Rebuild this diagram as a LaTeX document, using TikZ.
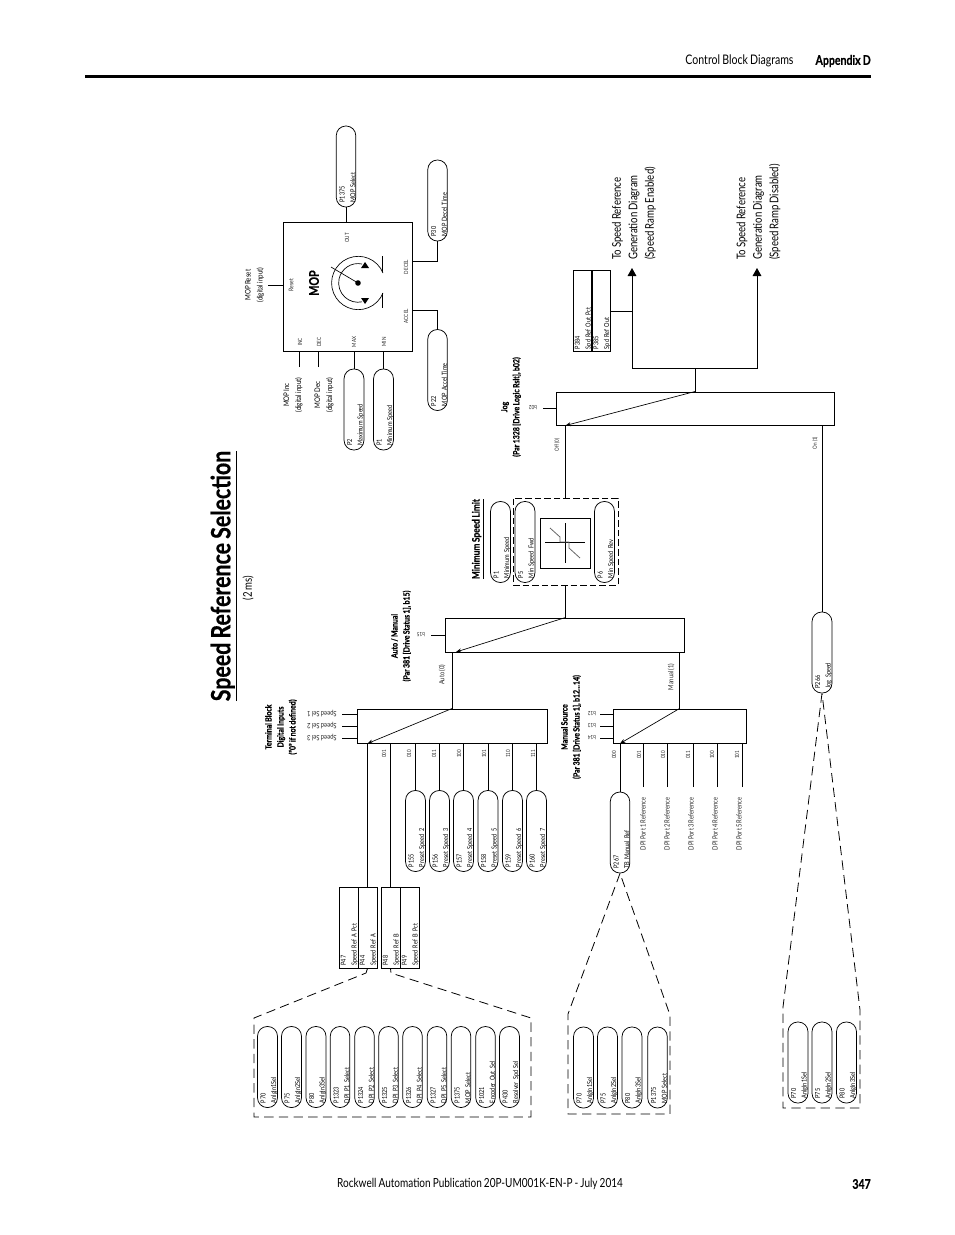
\documentclass[tikz,border=0pt]{standalone}
\usepackage{fontspec}
\setmainfont{Lato}[FakeStretch=0.8,WordSpace=0.8,BoldFeatures={FakeBold=0.5}]
\usepackage{tikz}
\usetikzlibrary{arrows.meta}
\newcommand{\pxu}{0.75pt}
\tikzset{
  wire/.style={line width=0.75pt},
  pill/.style={draw, line width=0.55pt, rectangle, rounded corners=7.2pt, rotate=90, inner sep=0pt,
    minimum width=81*\pxu, minimum height=19.5*\pxu, text width=54pt, align=left,
    font=\fontsize{5.2}{8}\selectfont, execute at begin node={\rule{0pt}{6pt}}},
  parambox/.style={draw, line width=0.7pt, rectangle, rotate=90, inner sep=0pt,
    minimum width=81*\pxu, minimum height=19*\pxu, text width=57pt, align=left,
    font=\fontsize{5.2}{8}\selectfont, execute at begin node={\rule{0pt}{5pt}}},
  block/.style 2 args={draw, line width=0.75pt, rectangle, inner sep=0pt, minimum width=#1*\pxu, minimum height=#2*\pxu},
  tinylabel/.style={rotate=90, inner sep=0pt, align=center, font=\fontsize{4.3}{7}\selectfont, text=black!85},
  smalllabel/.style={rotate=90, inner sep=0pt, align=center, font=\fontsize{5.4}{7}\selectfont, text=black!85},
  sellabel/.style={rotate=180, inner sep=0pt, font=\fontsize{4.3}{7}\selectfont, text=black!85},
  speedsel/.style={rotate=180, inner sep=0pt, font=\fontsize{5.5}{7}\selectfont, text=black!85},
  noteblock/.style={rotate=90, inner sep=0pt, align=center, font=\fontsize{5.8}{9}\selectfont},
  boldlabel/.style={rotate=90, inner sep=0pt, align=center, font=\fontsize{6.5}{9}\selectfont\bfseries},
  dashline/.style={line width=0.6pt, dash pattern=on 7pt off 4pt},
  thinarrow/.style={line width=0.5pt, -{Stealth[length=4pt,width=3pt]}},
  bigarrow/.style={wire, -{Triangle[length=6pt,width=6.5pt]}},
  tolabel/.style={rotate=90, anchor=west, inner sep=0pt, align=left, font=\fontsize{9}{12.4}\selectfont}
}
\begin{document}
\begin{tikzpicture}[x=0.75pt, y=-0.75pt]
\useasboundingbox (0,0) rectangle (954,1235);

\coordinate (rulestart) at (85,76.5);
\coordinate (ruleend) at (871,76.5);
\draw[line width=2.2pt] (rulestart) -- (ruleend);
\node[inner sep=0pt, font=\fontsize{9.9}{11}\selectfont] (hdrsec) at (739.5,61) {Control Block Diagrams};
\node[inner sep=0pt, anchor=east, font=\fontsize{9.9}{11}\selectfont\bfseries] (hdrapp) at (871,61) {Appendix D};
\node[inner sep=0pt, font=\fontsize{9.4}{11}\selectfont] (ftrpub) at (480,1184) {Rockwell Automation Publication 20P-UM001K-EN-P - July 2014};
\node[inner sep=0pt, anchor=east, font=\fontsize{9.9}{11}\selectfont\bfseries] (ftrpage) at (871,1184) {347};

\node[rotate=90, inner sep=0pt, font=\fontsize{20}{24}\selectfont\bfseries] (title) at (224,576) {\underline{Speed Reference Selection}};
\node[rotate=90, inner sep=0pt, font=\fontsize{9}{11}\selectfont] (cycle) at (248,588) {(2 ms)};

% MOP
\node[block={129}{129}] (mopbox) at (347.5,286.5) {};
\node[rotate=90, inner sep=0pt, font=\fontsize{10}{13}\selectfont\bfseries] (moptxt) at (314,283) {MOP};
\node[smalllabel, font=\fontsize{4.8}{7}\selectfont] (mopreset) at (291,285) {Reset};
\node[tinylabel] (mopout) at (347,238) {OUT};
\node[tinylabel] (mopdecel) at (406,267) {DECEL};
\node[tinylabel] (mopaccel) at (406,316) {ACCEL};
\node[tinylabel] (mopinc) at (300,342) {INC};
\node[tinylabel] (mopdec) at (319,342) {DEC};
\node[tinylabel] (mopmax) at (354,342) {MAX};
\node[tinylabel] (mopmin) at (384,342) {MIN};
\node[noteblock] (resetnote) at (254.5,285) {MOP Reset\\(digital input)};
\node[noteblock] (incnote) at (293,395) {MOP Inc\\(digital input)};
\node[noteblock] (decnote) at (324,395) {MOP Dec\\(digital input)};
\coordinate (resetend) at (268,285);
\coordinate (incend) at (299,367);
\coordinate (decend) at (318,367);
\draw[wire] (resetend) -- (resetend -| mopbox.west);
\draw[wire] (incend) -- (incend |- mopbox.south);
\draw[wire] (decend) -- (decend |- mopbox.south);

\node[pill] (mopsel) at (346,166.5) {P1375\\MOP Select};
\node[pill] (mopdect) at (437.5,200.5) {P30\\MOP Decel Time};
\node[pill] (mopacct) at (437.5,370) {P22\\MOP Accel Time};
\node[pill] (mopmaxs) at (354,409.5) {P2\\Maximum Speed};
\node[pill] (mopmins) at (383.5,409.5) {P1\\Minimum Speed};
\coordinate (decelpt) at (412,261);
\coordinate (accelpt) at (412,310);
\draw[wire] (mopsel.west) -- (mopsel.west |- mopbox.north);
\draw[wire] (mopdect.west) |- (decelpt);
\draw[wire] (mopacct.east) |- (accelpt);
\draw[wire] (mopmaxs.east) -- (mopmaxs.east |- mopbox.south);
\draw[wire] (mopmins.east) -- (mopmins.east |- mopbox.south);

\coordinate (symcen) at (358,283);
\fill (symcen) circle (2.1pt);
\draw[line width=0.5pt] (symcen) -- (331,267);
\draw[line width=0.5pt] (383,273) arc[start angle=22, end angle=338, radius=20pt];
\draw[line width=0.5pt] (362,264) arc[start angle=78, end angle=282, radius=14.5pt];
\draw[line width=0.6pt] (382,256) -- (382,272);
\draw[line width=0.6pt] (382,293) -- (382,308);
\fill (361,268) -- (365,262) -- (369,268) -- cycle;
\fill (361,298) -- (365,304) -- (369,298) -- cycle;

% output side
\node[block={278}{33}] (jogbox) at (695,408.5) {};
\coordinate (jogsplit) at (jogbox.north |- 0,368);
\coordinate (toenpt) at (632,268);
\coordinate (todispt) at (757,268);
\draw[wire] (jogbox.north) -- (jogsplit);
\draw[bigarrow] (jogsplit) -| (toenpt);
\draw[bigarrow] (jogsplit) -| (todispt);
\node[tolabel] (toen) at (634,260) {To Speed Reference\\Generation Diagram\\(Speed Ramp Enabled)};
\node[tolabel] (todis) at (758.5,260) {To Speed Reference\\Generation Diagram\\(Speed Ramp Disabled)};
\node[parambox] (p384) at (582.5,311) {P384\\Spd Ref Out Pct};
\node[parambox] (p385) at (601,311) {P385\\Spd Ref Out};
\draw[wire] (p385.south) -- (p385.south -| toenpt);

\node[boldlabel] (joglabel) at (511,407) {Jog\\(Par 1328 [Drive Logic Rslt], b02)};
\node[sellabel] (jogsel) at (533,408) {b02};
\coordinate (jogselend) at (543,408);
\draw[wire] (jogselend) -- (jogselend -| jogbox.west);
\node[tinylabel] (jogoff) at (557,445) {Off (0)};
\node[tinylabel] (jogon) at (815,443) {On (1)};

% minimum speed
\node[block={105}{87}, line width=0.6pt, dash pattern=on 5pt off 2.2pt] (minbox) at (565.5,541.5) {};
\node[block={50}{50}] (mincurve) at (565,543) {};
\draw[line width=0.5pt] (545,542) -- (585,542);
\draw[line width=0.5pt] (565,523) -- (565,563);
\draw[line width=0.6pt, black!60] (550,528) -- (560,537) -- (560,542) -- (569,542) -- (569,548) -- (580,558);
\node[boldlabel, font=\fontsize{7.8}{9}\selectfont\bfseries] (minlabel) at (478,539) {\underline{Minimum Speed Limit}};
\node[pill] (p1min) at (500.5,542) {P1\\Minimum Speed};
\node[pill] (p5min) at (525,542) {P5\\Min Speed Fwd};
\node[pill] (p6min) at (604.5,542) {P6\\Min Speed Rev};
\draw[wire] (minbox.north) -- (minbox.north |- jogbox.south);
\draw[thinarrow] (jogbox.north) -- (minbox.north |- jogbox.south);

\node[block={239}{34}] (autobox) at (564.5,635) {};
\draw[wire] (minbox.south) -- (minbox.south |- autobox.north);
\node[boldlabel] (autolabel) at (401,636) {Auto / Manual\\(Par 381 [Drive Status 1], b15)};
\node[sellabel] (autosel) at (421,635) {b15};
\coordinate (autoselend) at (431,635);
\draw[wire] (autoselend) -- (autoselend -| autobox.west);
\node[smalllabel] (autooff) at (442,675) {Auto (0)};
\node[smalllabel] (automan) at (671,677) {Manual (1)};
\coordinate (autotip) at (456,652);
\draw[thinarrow] (minbox.south |- autobox.north) -- (autotip);

% terminal block selector
\node[block={190}{34}] (termbox) at (452,726) {};
\draw[wire] (termbox.north) -- (termbox.north |- autobox.south);
\node[boldlabel] (termlabel) at (281,727) {Terminal Block\\Digital Inputs\\("0" if not defined)};
\node[speedsel] (tbsel1) at (322,714) {Speed Sel 1};
\node[speedsel] (tbsel2) at (322,726) {Speed Sel 2};
\node[speedsel] (tbsel3) at (322,738) {Speed Sel 3};
\coordinate (tbend1) at (342,714);
\coordinate (tbend2) at (342,726);
\coordinate (tbend3) at (342,738);
\draw[wire] (tbend1) -- (tbend1 -| termbox.west);
\draw[wire] (tbend2) -- (tbend2 -| termbox.west);
\draw[wire] (tbend3) -- (tbend3 -| termbox.west);
\node[tinylabel] (tb001) at (384,754) {001};
\node[tinylabel] (tb010) at (409,754) {010};
\node[tinylabel] (tb011) at (434,754) {011};
\node[tinylabel] (tb100) at (459,754) {100};
\node[tinylabel] (tb101) at (484,754) {101};
\node[tinylabel] (tb110) at (508,754) {110};
\node[tinylabel] (tb111) at (533,754) {111};
\node[pill] (p155) at (415.5,831) {P155\\Preset Speed 2};
\node[pill] (p156) at (439.5,831) {P156\\Preset Speed 3};
\node[pill] (p157) at (463.5,831) {P157\\Preset Speed 4};
\node[pill] (p158) at (488,831) {P158\\Preset Speed 5};
\node[pill] (p159) at (512.5,831) {P159\\Preset Speed 6};
\node[pill] (p160) at (536.5,831) {P160\\Preset Speed 7};
\draw[wire] (p155.east) -- (p155.east |- termbox.south);
\draw[wire] (p156.east) -- (p156.east |- termbox.south);
\draw[wire] (p157.east) -- (p157.east |- termbox.south);
\draw[wire] (p158.east) -- (p158.east |- termbox.south);
\draw[wire] (p159.east) -- (p159.east |- termbox.south);
\draw[wire] (p160.east) -- (p160.east |- termbox.south);

\node[parambox] (p47) at (348.5,927.5) {P47\\Speed Ref A Pct};
\node[parambox] (p44) at (367.5,927.5) {P44\\Speed Ref A};
\node[parambox] (p48) at (390.5,927.5) {P48\\Speed Ref B};
\node[parambox] (p49) at (409.5,927.5) {P49\\Speed Ref B Pct};
\draw[wire] (p44.east) -- (p44.east |- termbox.south);
\draw[wire] (p48.east) -- (p48.east |- termbox.south);
\draw[thinarrow] (termbox.north) -- (p44.east |- termbox.south);

\node[pill] (a70) at (267.5,1067) {P70\\AnlgIn1Sel};
\node[pill] (a75) at (291.5,1067) {P75\\AnlgIn2Sel};
\node[pill] (a80) at (316,1067) {P80\\AnlgIn3Sel};
\node[pill] (a1323) at (340,1067) {P1323\\DPI P1 Select};
\node[pill] (a1324) at (364.5,1067) {P1324\\DPI P2 Select};
\node[pill] (a1325) at (388.5,1067) {P1325\\DPI P3 Select};
\node[pill] (a1326) at (412.5,1067) {P1326\\DPI P4 Select};
\node[pill] (a1327) at (437,1067) {P1327\\DPI P5 Select};
\node[pill] (a1375) at (461,1067) {P1375\\MOP Select};
\node[pill] (a1021) at (485.5,1067) {P1021\\Encoder Out Sel};
\node[pill] (a430) at (509.5,1067) {P430\\Resolver Spd Sel};
\coordinate (groupa1) at (366,973);
\coordinate (groupa2) at (254,1018);
\coordinate (groupa3) at (254,1117);
\coordinate (groupa4) at (531,1117);
\coordinate (groupa5) at (531,1018);
\coordinate (groupa6) at (391,973);
\draw[dashline] (p44.west) -- (groupa1) -- (groupa2) -- (groupa3) -- (groupa4) -- (groupa5) -- (groupa6) -- (p48.west);

% manual source selector
\node[block={133}{34}] (mansrc) at (679.5,726) {};
\draw[wire] (mansrc.north) -- (mansrc.north |- autobox.south);
\node[boldlabel] (manlabel) at (571,727) {Manual Source\\(Par 381 [Drive Status 1], b12...14)};
\node[sellabel] (msel1) at (592,714) {b12};
\node[sellabel] (msel2) at (592,726) {b13};
\node[sellabel] (msel3) at (592,738) {b14};
\coordinate (msend1) at (600,714);
\coordinate (msend2) at (600,726);
\coordinate (msend3) at (600,738);
\draw[wire] (msend1) -- (msend1 -| mansrc.west);
\draw[wire] (msend2) -- (msend2 -| mansrc.west);
\draw[wire] (msend3) -- (msend3 -| mansrc.west);
\node[tinylabel] (ms000) at (614,755) {000};
\node[tinylabel] (ms001) at (639,755) {001};
\node[tinylabel] (ms010) at (663,755) {010};
\node[tinylabel] (ms011) at (688,755) {011};
\node[tinylabel] (ms100) at (712,755) {100};
\node[tinylabel] (ms101) at (737,755) {101};
\node[pill] (p267) at (620,832.5) {P267\\TB Manual Ref};
\draw[wire] (p267.east) -- (p267.east |- mansrc.south);
\draw[thinarrow] (mansrc.north) -- (p267.east |- mansrc.south);
\node[smalllabel] (dpi1) at (643,824) {DPI Port 1 Reference};
\node[smalllabel] (dpi2) at (667,824) {DPI Port 2 Reference};
\node[smalllabel] (dpi3) at (691,824) {DPI Port 3 Reference};
\node[smalllabel] (dpi4) at (715,824) {DPI Port 4 Reference};
\node[smalllabel] (dpi5) at (739,824) {DPI Port 5 Reference};
\coordinate (dpiend1) at (643,787);
\coordinate (dpiend2) at (667,787);
\coordinate (dpiend3) at (693,787);
\coordinate (dpiend4) at (717,787);
\coordinate (dpiend5) at (742,787);
\draw[wire] (dpiend1) -- (dpiend1 |- mansrc.south);
\draw[wire] (dpiend2) -- (dpiend2 |- mansrc.south);
\draw[wire] (dpiend3) -- (dpiend3 |- mansrc.south);
\draw[wire] (dpiend4) -- (dpiend4 |- mansrc.south);
\draw[wire] (dpiend5) -- (dpiend5 |- mansrc.south);

\node[pill] (b70) at (583.5,1067.5) {P70\\AnlgIn1Sel};
\node[pill] (b75) at (607.5,1067.5) {P75\\AnlgIn2Sel};
\node[pill] (b80) at (632,1067.5) {P80\\AnlgIn3Sel};
\node[pill] (b1375) at (657.5,1067.5) {P1375\\MOP Select};
\coordinate (groupb1) at (568,1014);
\coordinate (groupb2) at (568,1114);
\coordinate (groupb3) at (670,1114);
\coordinate (groupb4) at (670,1015);
\draw[dashline] (p267.west) -- (groupb1) -- (groupb2) -- (groupb3) -- (groupb4) -- (p267.west);

% jog speed
\node[pill] (p266) at (822,652.5) {P266\\Jog Speed};
\draw[wire] (p266.east) -- (p266.east |- jogbox.south);
\node[pill] (c70) at (798,1062.5) {P70\\AnlgIn1Sel};
\node[pill] (c75) at (822,1062.5) {P75\\AnlgIn2Sel};
\node[pill] (c80) at (846.5,1062.5) {P80\\AnlgIn3Sel};
\coordinate (groupc1) at (783,1007);
\coordinate (groupc2) at (783,1108);
\coordinate (groupc3) at (860,1108);
\coordinate (groupc4) at (860,1010);
\draw[dashline] (p266.west) -- (groupc1) -- (groupc2) -- (groupc3) -- (groupc4) -- (p266.west);
\end{tikzpicture}
\end{document}
